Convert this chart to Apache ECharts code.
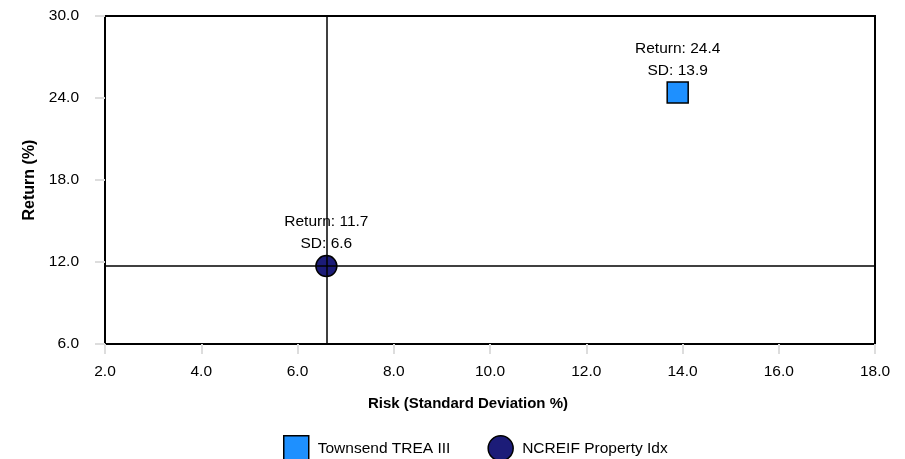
<!DOCTYPE html>
<html>
<head>
<meta charset="utf-8">
<script src="https://cdn.jsdelivr.net/npm/echarts@6/dist/echarts.min.js"></script>
<style>html,body{margin:0;padding:0;background:#fff}#c{width:905px;height:459px}</style>
</head>
<body>
<div id="c"></div>
<script>
var seriesNames = ['Townsend TREA III', 'NCREIF Property Idx'];
var riskValues = [13.9, 6.6];
var returnValues = [24.4, 11.7];
var crossX = 6.6;
var crossY = 11.7;
var xTicks = [2, 4, 6, 8, 10, 12, 14, 16, 18];
var yTicks = [6, 12, 18, 24, 30];

var symbols = ['rect', 'circle'];
var colors = ['#1E90FF', '#1C1C78'];
var FONT = 'Liberation Sans, Arial, sans-serif';
var FS = 15.5;

var chart = echarts.init(document.getElementById('c'));
var series = seriesNames.map(function (n, i) {
  return {
    name: n,
    type: 'scatter',
    symbol: symbols[i],
    symbolSize: 21,
    itemStyle: { color: colors[i], borderColor: '#000', borderWidth: 1.5, opacity: 1 },
    data: [[riskValues[i], returnValues[i]]],
    label: {
      show: true,
      position: 'top',
      distance: 0,
      color: '#000',
      fontFamily: FONT,
      fontSize: FS,
      lineHeight: 22,
      align: 'center',
      formatter: function (p) {
        return 'Return: ' + p.value[1].toFixed(1) + '\nSD: ' + p.value[0].toFixed(1);
      }
    },
    z: 2
  };
});
series.push({
  type: 'scatter',
  data: [],
  silent: true,
  z: 5,
  markLine: {
    silent: true,
    symbol: 'none',
    label: { show: false },
    lineStyle: { color: '#000', width: 1.5, type: 'solid' },
    data: [{ xAxis: crossX }, { yAxis: crossY }],
    z: 5
  }
});

chart.setOption({
  animation: false,
  grid: { left: 105, right: 30, top: 16, bottom: 115, show: true, borderColor: '#000', borderWidth: 2, backgroundColor: '#fff' },
  xAxis: {
    type: 'value', min: xTicks[0], max: xTicks[xTicks.length - 1], interval: 2,
    name: 'Risk (Standard Deviation %)', nameLocation: 'middle', nameGap: 52,
    nameTextStyle: { fontWeight: 'bold', fontSize: 15, color: '#000', fontFamily: FONT, padding: [0, 44, 0, 0] },
    axisLine: { show: true, lineStyle: { color: '#000', width: 2 } },
    axisTick: { show: true, length: 10, lineStyle: { color: '#ddd', width: 2 } },
    axisLabel: { margin: 20, color: '#000', fontSize: FS, fontFamily: FONT, formatter: function (v) { return v.toFixed(1); } },
    splitLine: { show: false }
  },
  yAxis: {
    type: 'value', min: yTicks[0], max: yTicks[yTicks.length - 1], interval: 6,
    name: 'Return (%)', nameLocation: 'middle', nameGap: 67,
    nameTextStyle: { fontWeight: 'bold', fontSize: 16, color: '#000', fontFamily: FONT },
    axisLine: { show: true, lineStyle: { color: '#000', width: 2 } },
    axisTick: { show: true, length: 10, lineStyle: { color: '#ddd', width: 2 } },
    axisLabel: { margin: 26, color: '#000', fontSize: FS, fontFamily: FONT, formatter: function (v) { return v.toFixed(1); } },
    splitLine: { show: false }
  },
  legend: {
    data: seriesNames.map(function (n, i) { return { name: n, icon: symbols[i] }; }),
    left: 283, top: 435, padding: 0,
    itemWidth: 25, itemHeight: 25, itemGap: 37,
    textStyle: { color: '#000', fontSize: FS, fontFamily: FONT, padding: [0, 0, 0, 4] },
    itemStyle: { borderColor: '#000', borderWidth: 1.5 }
  },
  series: series
});
</script>
</body>
</html>
